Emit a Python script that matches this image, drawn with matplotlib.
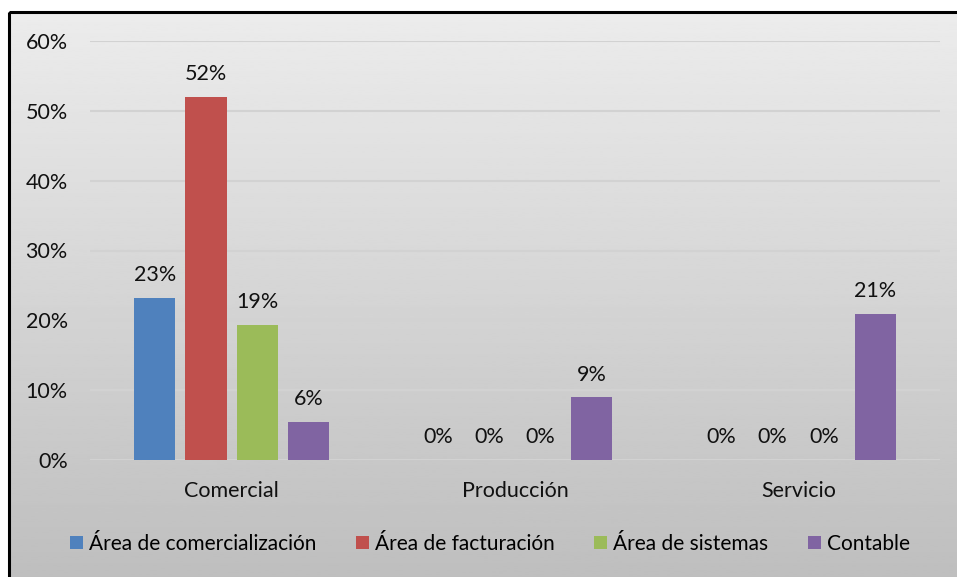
import matplotlib.pyplot as plt
import numpy as np
from matplotlib.patches import Rectangle

plt.rcParams['font.family'] = ['Lato', 'DejaVu Sans']

categories = ['Comercial', 'Producción', 'Servicio']
series_names = ['Área de comercialización', 'Área de facturación', 'Área de sistemas', 'Contable']
values = [
    [0.232, 0.0, 0.0],
    [0.520, 0.0, 0.0],
    [0.194, 0.0, 0.0],
    [0.055, 0.09, 0.209],
]
colors = ['#4F81BD', '#C0504D', '#9BBB59', '#8064A2']
yticks = [0, 0.1, 0.2, 0.3, 0.4, 0.5, 0.6]

W, H = 957, 577
fig = plt.figure(figsize=(W / 100, H / 100), dpi=100)

# background: chart area with vertical gradient, framed by a black border
bg = fig.add_axes([0, 0, 1, 1])
bg.set_xlim(0, W)
bg.set_ylim(H, 0)
bg.axis('off')
grad = np.linspace(0.925, 0.745, 256).reshape(-1, 1)
bg.imshow(grad, cmap='gray', vmin=0, vmax=1, aspect='auto',
          extent=(9, W + 5, H + 5, 12), zorder=0)
bg.add_patch(Rectangle((9, 12), W, H, fill=False, edgecolor='black', lw=2.2, zorder=1))

fs = 15.5

# plot area
ax = fig.add_axes([90 / W, 1 - 460 / H, 850 / W, 419 / H])
ax.patch.set_alpha(0)
x = np.arange(len(categories))
step = 0.181
width = 0.145
for i, (name, vals) in enumerate(zip(series_names, values)):
    pos = x + (i - 1.5) * step
    ax.bar(pos, vals, width, color=colors[i], label=name, zorder=3)
    for p, v in zip(pos, vals):
        ax.text(p, v + 0.018, f'{round(v * 100):.0f}%', ha='center', va='bottom',
                fontsize=fs, color='#111111', zorder=4)

ax.set_xlim(-0.5, 2.5)
ax.set_ylim(0, 0.6)
ax.set_yticks(yticks)
ax.set_yticklabels([f'{int(round(t * 100))}%' for t in yticks], fontsize=fs, color='#111111')
ax.set_xticks(x)
ax.set_xticklabels(categories, fontsize=fs, color='#111111')
ax.tick_params(length=0)
ax.tick_params(axis='y', pad=16)
ax.tick_params(axis='x', pad=15)
ax.grid(axis='y', color='#d2d2d2', lw=1.5, zorder=0)
for s in ax.spines.values():
    s.set_visible(False)

fig.legend(loc='center', bbox_to_anchor=(490 / W, 1 - 544 / H), ncol=4, frameon=False,
           fontsize=15, handlelength=0.62, handleheight=0.62, handletextpad=0.3,
           columnspacing=1.9)

fig.savefig('out.png', dpi=100)
